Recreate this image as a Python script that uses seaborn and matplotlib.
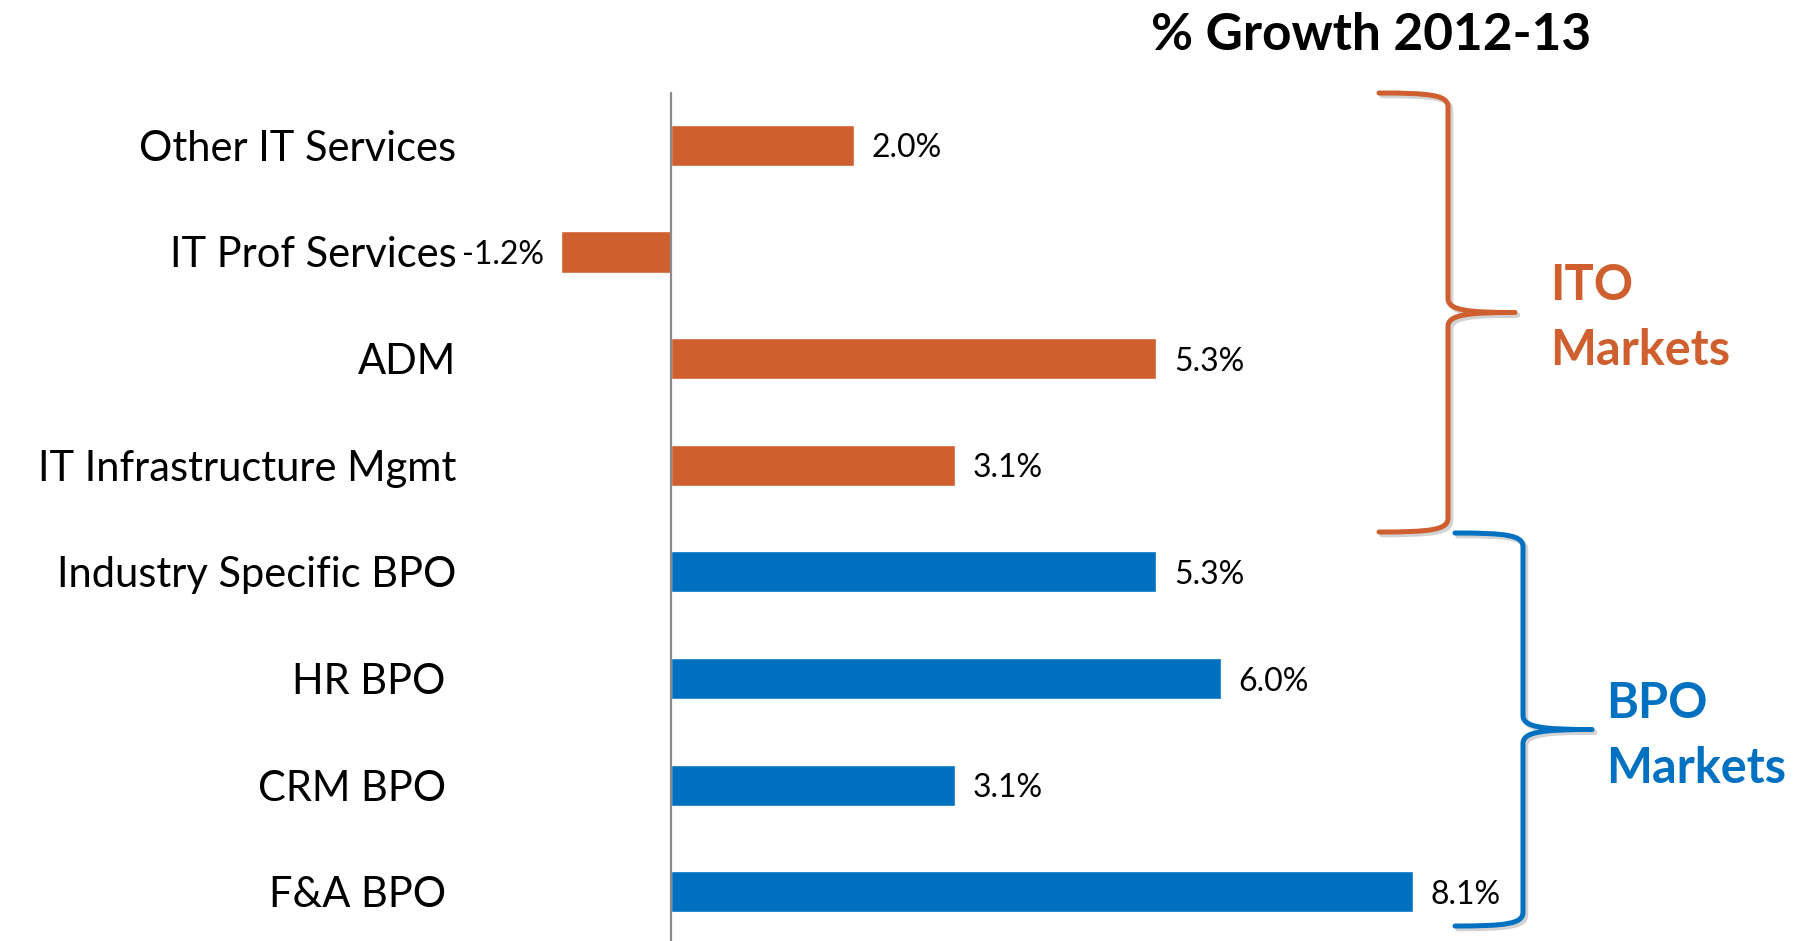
import matplotlib
matplotlib.use("Agg")
import matplotlib.pyplot as plt
import matplotlib.patheffects as pe
from matplotlib.path import Path
from matplotlib.patches import PathPatch
import pandas as pd
import seaborn as sns

# ---- data -------------------------------------------------------------
segments = [
    "Other IT Services",
    "IT Prof Services",
    "ADM",
    "IT Infrastructure Mgmt",
    "Industry Specific BPO",
    "HR BPO ",
    "CRM BPO ",
    "F&A BPO ",
]
growth = [2.0, -1.2, 5.3, 3.1, 5.3, 6.0, 3.1, 8.1]
groups = ["ITO", "ITO", "ITO", "ITO", "BPO", "BPO", "BPO", "BPO"]
group_titles = {"ITO": ("ITO", "Markets"), "BPO": ("BPO", "Markets")}
title = "% Growth 2012-13"

ORANGE = "#CF5F2E"
BLUE = "#0070C0"
palette = {"ITO": ORANGE, "BPO": BLUE}

df = pd.DataFrame({"segment": segments, "growth": growth, "group": groups})

# ---- figure / axes geometry (pixels) ----------------------------------
W, H, DPI = 1802, 941, 100
sns.set_theme(style="white")
plt.rcParams["font.family"] = ["Lato", "DejaVu Sans"]

fig = plt.figure(figsize=(W / DPI, H / DPI), dpi=DPI)
fig.patch.set_facecolor("white")

zero_px, px_per_unit = 671, 91.6
ax_left_px, ax_right_px = 480, 1500
ax_top_px, ax_bot_px = 92, 941
ax = fig.add_axes([ax_left_px / W, 1 - ax_bot_px / H,
                   (ax_right_px - ax_left_px) / W, (ax_bot_px - ax_top_px) / H])

sns.barplot(data=df, y="segment", x="growth", hue="group", palette=palette,
            orient="h", dodge=False, width=0.385, legend=False,
            saturation=1, ax=ax)

ax.set_xlim((ax_left_px - zero_px) / px_per_unit, (ax_right_px - zero_px) / px_per_unit)
ax.set_ylim(len(segments) - 0.54, -0.5)

for s in ax.spines.values():
    s.set_visible(False)
ax.set_xticks([])
ax.set_xlabel("")
ax.set_ylabel("")
# labels end ~24 px left of the axes edge
ax.tick_params(axis="y", length=0, pad=17, labelsize=30, labelcolor="black")
ax.grid(False)

# zero line
ax.axvline(0, color="#8C8C8C", lw=1.6, zorder=5)

# value labels
for i, v in enumerate(growth):
    off = 12.5 if v >= 0 else -12.5
    ax.annotate(f"{v:.1f}%", xy=(v, i), xytext=(off, 0), textcoords="offset points",
                ha="left" if v >= 0 else "right", va="center_baseline", fontsize=23,
                color="black")

# title
fig.text(1371 / W, 1 - 36 / H, title, ha="center", va="center",
         fontsize=37, fontweight="bold", color="black")


def fx(x):
    return x / W


def fy(y):
    return 1 - y / H


def draw_brace(xa, xs, xt, yt, yb, color):
    ym = (yt + yb) / 2
    r = 14
    pts = [
        (xa, yt),
        (xa + 0.75 * (xs - xa), yt), (xs, yt + 2), (xs, yt + r),
        (xs, ym - r),
        (xs, ym - 2), (xs + 0.3 * (xt - xs), ym), (xt, ym),
        (xs + 0.3 * (xt - xs), ym), (xs, ym + 2), (xs, ym + r),
        (xs, yb - r),
        (xs, yb - 2), (xa + 0.75 * (xs - xa), yb), (xa, yb),
    ]
    codes = [Path.MOVETO,
             Path.CURVE4, Path.CURVE4, Path.CURVE4,
             Path.LINETO,
             Path.CURVE4, Path.CURVE4, Path.CURVE4,
             Path.CURVE4, Path.CURVE4, Path.CURVE4,
             Path.LINETO,
             Path.CURVE4, Path.CURVE4, Path.CURVE4]
    path = Path([(fx(x), fy(y)) for x, y in pts], codes)
    patch = PathPatch(path, transform=fig.transFigure, fill=False,
                      edgecolor=color, lw=3.6, capstyle="round", joinstyle="round")
    patch.set_path_effects([pe.SimpleLineShadow(offset=(2, -2), shadow_color="gray", alpha=0.35),
                            pe.Normal()])
    fig.add_artist(patch)


draw_brace(1379, 1448, 1515, 93, 532, ORANGE)
draw_brace(1455, 1523, 1592, 533, 926, BLUE)

# group labels
for key, x0, b1, b2, col in [("ITO", 1550, 300, 365, ORANGE),
                             ("BPO", 1606, 718, 783, BLUE)]:
    l1, l2 = group_titles[key]
    fig.text(fx(x0), fy(b1), l1, ha="left", va="baseline", fontsize=35,
             fontweight="bold", color=col)
    fig.text(fx(x0), fy(b2), l2, ha="left", va="baseline", fontsize=35,
             fontweight="bold", color=col)

fig.savefig("out.png", dpi=DPI, facecolor="white")
